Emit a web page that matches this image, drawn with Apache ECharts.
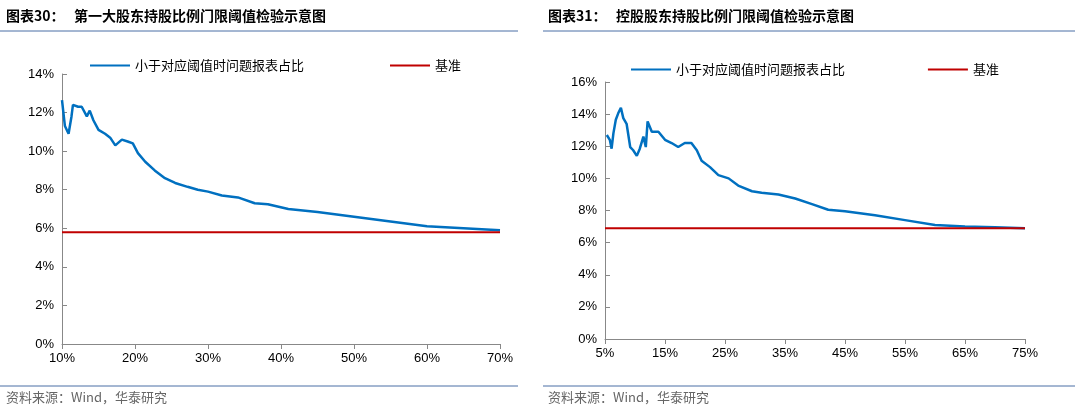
<!DOCTYPE html>
<html><head><meta charset="utf-8">
<script src="https://cdn.jsdelivr.net/npm/echarts@6/dist/echarts.min.js"></script>
<style>body{margin:0;background:#fff}#main{width:1080px;height:415px}</style>
</head><body><div id="main"></div>
<script>
// 图表30：第一大股东持股比例 (x %, y %)
var leftX = [10,10.4,10.9,11.3,11.5,12.2,12.7,13.4,13.8,14.3,15,15.9,16.6,17.3,18.2,19,19.7,20.4,21.4,22.7,24.1,25.5,27.2,28.6,30,31.9,34.1,36.4,38.2,41,45,50,55,60,65,70];
var leftY = [12.65,11.3,10.9,11.8,12.4,12.3,12.3,11.8,12.1,11.6,11.1,10.9,10.7,10.3,10.6,10.5,10.4,9.9,9.45,9.0,8.6,8.35,8.15,8.0,7.9,7.7,7.6,7.3,7.25,7.0,6.85,6.6,6.35,6.1,6.0,5.9];
var leftBase = 5.8;
// 图表31：控股股东持股比例
var rightX = [5.3,5.8,6.1,6.4,6.8,7.2,7.65,8.05,8.6,9.2,9.7,10.3,10.8,11.4,11.8,12.1,12.8,13.9,15,16.1,17.2,18.3,19.4,20.3,21.1,22.5,23.9,25.6,27.2,29.5,31.1,33.9,36.7,39.5,42.2,45,50,55,60,65,70,75];
var rightY = [12.7,12.4,11.85,12.8,13.65,14.05,14.4,13.75,13.4,11.95,11.75,11.4,11.85,12.6,11.95,13.55,12.9,12.9,12.4,12.2,11.95,12.2,12.2,11.75,11.1,10.7,10.2,10.0,9.55,9.2,9.1,9.0,8.75,8.4,8.05,7.95,7.7,7.4,7.1,7.0,6.95,6.9];
var rightBase = 6.9;

function pairs(xs, ys){ return xs.map(function(x,i){ return [x, ys[i]]; }); }
var font = 'Liberation Sans';
function xAx(idx, min, max){
  return {type:'value', gridIndex:idx, min:min, max:max, interval:10,
    axisLabel:{formatter:'{value}%', color:'#000', fontSize:13, fontFamily:font, margin:8},
    axisLine:{lineStyle:{color:'#888'}}, axisTick:{show:true, lineStyle:{color:'#888'}}, splitLine:{show:false}};
}
function yAx(idx, max){
  return {type:'value', gridIndex:idx, min:0, max:max, interval:2,
    axisLabel:{formatter:'{value}%', color:'#000', fontSize:13, fontFamily:font},
    axisLine:{show:true, lineStyle:{color:'#888'}}, axisTick:{show:true, inside:true, lineStyle:{color:'#888'}}, splitLine:{show:false}};
}
var blue = '#0070C0', red = '#C00000';
var chart = echarts.init(document.getElementById('main'));
chart.setOption({
  animation:false,
  grid:[{left:62, top:74, width:438, height:270}, {left:605, top:82, width:420, height:257}],
  xAxis:[xAx(0,10,70), xAx(1,5,75)],
  yAxis:[yAx(0,14), yAx(1,16)],
  legend:[
    {left:85, top:54, itemWidth:40, itemGap:86, icon:'rect', itemHeight:2,
     textStyle:{fontSize:13, color:'#000', fontFamily:'Noto Sans CJK SC'},
     data:[{name:'小于对应阈值时问题报表占比', itemStyle:{color:blue}},{name:'基准', itemStyle:{color:red}}], seriesIndex:[0,1]},
    {left:626, top:58, itemWidth:40, itemGap:80, icon:'rect', itemHeight:2,
     textStyle:{fontSize:13, color:'#000', fontFamily:'Noto Sans CJK SC'},
     data:[{name:'小于对应阈值时问题报表占比 ', itemStyle:{color:blue}},{name:'基准 ', itemStyle:{color:red}}]}
  ],
  series:[
    {name:'小于对应阈值时问题报表占比', type:'line', xAxisIndex:0, yAxisIndex:0, data:pairs(leftX,leftY), showSymbol:false, lineStyle:{color:blue, width:2.5}, itemStyle:{color:blue}, z:3},
    {name:'基准', type:'line', xAxisIndex:0, yAxisIndex:0, data:[[10,leftBase],[70,leftBase]], showSymbol:false, lineStyle:{color:red, width:2}, itemStyle:{color:red}},
    {name:'小于对应阈值时问题报表占比 ', type:'line', xAxisIndex:1, yAxisIndex:1, data:pairs(rightX,rightY), showSymbol:false, lineStyle:{color:blue, width:2.5}, itemStyle:{color:blue}, z:3},
    {name:'基准 ', type:'line', xAxisIndex:1, yAxisIndex:1, data:[[5,rightBase],[75,rightBase]], showSymbol:false, lineStyle:{color:red, width:2}, itemStyle:{color:red}}
  ],
  graphic:[
    {type:'text', left:6, top:9, style:{text:'图表30：   第一大股东持股比例门限阈值检验示意图', fill:'#000', font:'bold 14px "Noto Sans CJK SC"'}},
    {type:'text', left:548, top:9, style:{text:'图表31：   控股股东持股比例门限阈值检验示意图', fill:'#000', font:'bold 14px "Noto Sans CJK SC"'}},
    {type:'line', shape:{x1:0,y1:31,x2:518,y2:31}, style:{stroke:'#4a6fa5', lineWidth:1}},
    {type:'line', shape:{x1:543,y1:31,x2:1075,y2:31}, style:{stroke:'#4a6fa5', lineWidth:1}},
    {type:'line', shape:{x1:0,y1:386,x2:518,y2:386}, style:{stroke:'#4a6fa5', lineWidth:1}},
    {type:'line', shape:{x1:543,y1:386,x2:1075,y2:386}, style:{stroke:'#4a6fa5', lineWidth:1}},
    {type:'text', left:6, top:391, style:{text:'资料来源：Wind，华泰研究', fill:'#666', font:'13px "Noto Sans CJK SC"'}},
    {type:'text', left:548, top:391, style:{text:'资料来源：Wind，华泰研究', fill:'#666', font:'13px "Noto Sans CJK SC"'}}
  ]
});
</script></body></html>
